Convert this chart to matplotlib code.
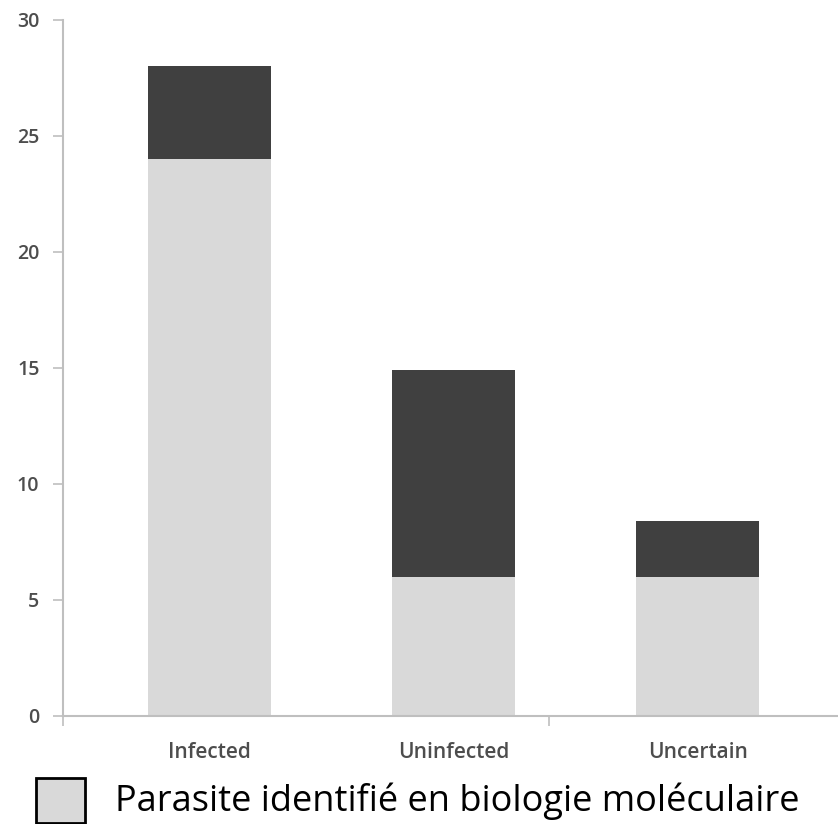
import matplotlib
matplotlib.use("Agg")
import matplotlib.pyplot as plt
from matplotlib.patches import Rectangle

categories = ["Infected", "Uninfected", "Uncertain"]
identified = [24, 6, 6]          # light gray: Parasite identifié en biologie moléculaire
not_identified = [4, 8.9, 2.4]   # dark gray
y_ticks = [0, 5, 10, 15, 20, 25, 30]
legend_label = "Parasite identifié en biologie moléculaire"

LIGHT = "#d9d9d9"
DARK = "#404040"
TEXT = "#4d4d4d"
AXIS = "#bfbfbf"

W, H = 838, 824
fig = plt.figure(figsize=(W / 100, H / 100), dpi=100)
ax = fig.add_axes([63 / W, (H - 715.7) / H, 1 - 63 / W, (715.7 - 19.7) / H])

x = list(range(len(categories)))
ax.bar(x, identified, width=0.504, color=LIGHT, zorder=2)
ax.bar(x, not_identified, width=0.504, bottom=identified, color=DARK, zorder=2)

ax.set_xlim(-0.602, 2.574)
ax.set_ylim(0, 30)
ax.set_yticks(y_ticks)
ax.set_yticklabels([str(t) for t in y_ticks])
ax.tick_params(axis="y", length=7, width=1.2, color=AXIS, labelcolor=TEXT,
               labelsize=14, pad=10)
for lab in ax.get_yticklabels():
    lab.set_fontfamily("Open Sans")
    lab.set_fontweight("semibold")

ax.set_xticks(x)
ax.set_xticklabels(categories, fontfamily="Open Sans", fontsize=15,
                   color=TEXT, fontweight="semibold")
ax.tick_params(axis="x", which="major", length=0, pad=19)
ax.set_xticks([-0.602, 1.391], minor=True)
ax.tick_params(axis="x", which="minor", length=7, width=1.2, color=AXIS)

for s in ["top", "right"]:
    ax.spines[s].set_visible(False)
for s in ["left", "bottom"]:
    ax.spines[s].set_color(AXIS)
    ax.spines[s].set_linewidth(1.5)
    ax.spines[s].set_zorder(3)

# legend
fig.patches.append(Rectangle((36 / W, (H - 823) / H), 49 / W, 45 / H,
                             transform=fig.transFigure, facecolor=LIGHT,
                             edgecolor="black", linewidth=2))
fig.text(115 / W, (H - 801) / H, legend_label, fontfamily="Open Sans",
         fontsize=26, color="black", va="center", ha="left")

fig.savefig("out.png", dpi=100)
